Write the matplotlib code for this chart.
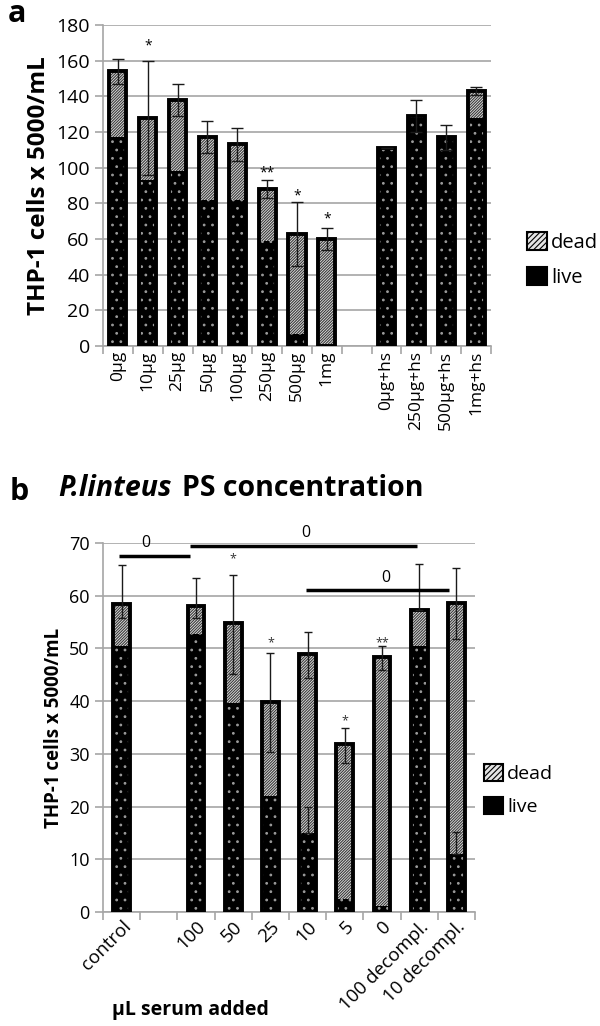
import numpy as np
import matplotlib
matplotlib.use('Agg')
import matplotlib.pyplot as plt
from matplotlib.patches import Patch

plt.rcParams['font.family'] = ['Open Sans', 'DejaVu Sans']
plt.rcParams['hatch.linewidth'] = 0.8

# ---------------- data: panel a ----------------
cats_a = ['0µg', '10µg', '25µg', '50µg', '100µg', '250µg', '500µg', '1mg', '',
          '0µg+hs', '250µg+hs', '500µg+hs', '1mg+hs']
total_a = [154, 128, 138, 117, 113, 88, 63, 60, np.nan, 111, 129, 117, 143]
live_a = [117, 93, 98, 82, 82, 59, 7, 0, np.nan, 111, 128, 117, 128]
err_a = [7, 32, 9, 9, 9, 5, 18, 6, np.nan, 0, 9, 7, 2]
stars_a = ['', '*', '', '', '', '**', '*', '*', '', '', '', '', '']
star_y_a = [0, 168, 0, 0, 0, 97, 84, 71, 0, 0, 0, 0, 0]

# ---------------- data: panel b ----------------
cats_b = ['control', '', '100', '50', '25', '10', '5', '0', '100 decompl.', '10 decompl.']
total_b = [58.4, np.nan, 58.0, 54.9, 39.9, 48.9, 31.9, 48.3, 57.2, 58.7]
live_b = [50.4, np.nan, 52.8, 39.7, 22.0, 15.0, 2.5, 1.2, 50.4, 11.0]
err_hi_b = [7.4, np.nan, 5.3, 9.1, 9.3, 4.3, 3.1, 2.1, 8.8, 6.5]
err_lo_b = [2.7, np.nan, 2.3, 9.7, 9.6, 4.6, 3.6, 2.3, 0.0, 7.0]
live_err_b = [0, np.nan, 0, 0, 0, 5.0, 0, 0, 0, 4.2]
stars_b = ['', '', '', '*', '*', '', '*', '**', '', '']
star_y_b = [0, 0, 0, 67.0, 51.0, 0, 36.3, 51.0, 0, 0]
# significance brackets: (x start, x end, y, label)
sig_x0 = [-0.08, 1.85, 4.95]
sig_x1 = [1.85, 7.95, 8.8]
sig_y = [67.5, 69.4, 61.0]
sig_lbl = ['0', '0', '0']
sig_lbl_x = [0.65, 4.95, 7.1]
sig_lbl_y = [68.4, 70.3, 61.9]

GRID = '#a6a6a6'
DEAD_HATCH = '////////////'


def draw_panel(ax, cats, live, total, elo, ehi, width, capsize, ylim, ystep):
    x = np.arange(len(cats))
    idx = [i for i, c in enumerate(cats) if c != '']
    xs = x[idx]
    lv = np.array(live, float)[idx]
    tt = np.array(total, float)[idx]
    lo = np.array(elo, float)[idx]
    hi = np.array(ehi, float)[idx]
    dead = tt - lv
    ax.bar(xs, lv, width, color='black', edgecolor='#9a9a9a', hatch='..', lw=0, zorder=2)
    ax.bar(xs, dead, width, bottom=lv, color='#e4e4e4', edgecolor='#3a3a3a',
           hatch=DEAD_HATCH, lw=0, zorder=2)
    ax.bar(xs, tt, width, fill=False, edgecolor='black', lw=2.8, zorder=3)
    ax.errorbar(xs, tt, yerr=[lo, hi], fmt='none', ecolor='#1a1a1a', elinewidth=1.0,
                capsize=capsize, capthick=1.0, zorder=4)
    ax.set_xlim(-0.5, len(cats) - 0.5)
    ax.set_ylim(*ylim)
    ax.set_yticks(np.arange(ylim[0], ylim[1] + 0.1, ystep))
    ax.yaxis.grid(True, color=GRID, lw=1.2, zorder=0)
    ax.set_axisbelow(True)
    for s in ['top', 'right']:
        ax.spines[s].set_visible(False)
    for s in ['left', 'bottom']:
        ax.spines[s].set_color(GRID)
        ax.spines[s].set_linewidth(1.2)
    ax.set_xticks(x)
    ax.set_xticks(np.arange(-0.5, len(cats), 1.0), minor=True)
    ax.tick_params(axis='x', which='major', length=0)
    ax.tick_params(axis='x', which='minor', length=6, color=GRID, width=1.2)
    ax.tick_params(axis='y', length=6, color=GRID, width=1.2)
    return x


fig = plt.figure(figsize=(6, 10.26), dpi=100)

# ---------------- panel a ----------------
axa = fig.add_axes([103 / 600, 1 - 346 / 1026, 388 / 600, 321 / 1026])
xa = draw_panel(axa, cats_a, live_a, total_a, err_a, err_a, 0.57, 4.5, (0, 180), 20)
axa.set_xticklabels(cats_a, rotation=90, fontsize=12.5, va='top', ha='center')
axa.tick_params(axis='y', labelsize=14)
axa.set_ylabel('THP-1 cells x 5000/mL', fontsize=17.5, fontweight='bold', labelpad=4)
for i, s in enumerate(stars_a):
    if s:
        axa.text(xa[i], star_y_a[i], s, ha='center', va='center', fontsize=10)
fig.text(8 / 600, 1 - 14 / 1026, 'a', fontsize=22, fontweight='bold', va='center', ha='left')

leg_handles = [Patch(facecolor='#e4e4e4', edgecolor='black', hatch='//////', lw=1.5),
               Patch(facecolor='black', edgecolor='black', lw=1.5)]
fig.legend(leg_handles, ['dead', 'live'], loc='center left',
           bbox_to_anchor=(527 / 600, 1 - 260 / 1026), frameon=False, fontsize=14.5,
           handlelength=1.0, handleheight=1.0, handletextpad=0.2, labelspacing=0.7,
           borderpad=0, borderaxespad=0)

# ---------------- panel b ----------------
axb = fig.add_axes([103 / 600, 1 - 912 / 1026, 372 / 600, 369 / 1026])
xb = draw_panel(axb, cats_b, live_b, total_b, err_lo_b, err_hi_b, 0.45, 3, (0, 70), 10)
# live error bars
lb = np.array(live_b, float)
le = np.array(live_err_b, float)
sel = [i for i in range(len(cats_b)) if cats_b[i] != '' and le[i] > 0]
axb.errorbar(xb[sel], lb[sel], yerr=[np.zeros(len(sel)), le[sel]], fmt='none',
             ecolor='#1a1a1a', elinewidth=1.0, capsize=3, capthick=1.0, zorder=4)
axb.set_xticklabels(cats_b, rotation=45, fontsize=13.5, ha='right', va='top',
                    rotation_mode='anchor')
axb.tick_params(axis='x', which='major', pad=4)
axb.tick_params(axis='y', labelsize=13)
axb.set_ylabel('THP-1 cells x 5000/mL', fontsize=13.5, fontweight='bold', labelpad=4)
for i, s in enumerate(stars_b):
    if s:
        axb.text(xb[i], star_y_b[i], s, ha='center', va='center', fontsize=9, color='#333')
for x0, x1, y, lbl, lx, ly in zip(sig_x0, sig_x1, sig_y, sig_lbl, sig_lbl_x, sig_lbl_y):
    axb.plot([x0, x1], [y, y], color='black', lw=2.5, clip_on=False, zorder=5,
             solid_capstyle='butt')
    axb.text(lx, ly, lbl, ha='center', va='bottom', fontsize=11.5, clip_on=False)

fig.text(10 / 600, 1 - 492 / 1026, 'b', fontsize=22, fontweight='bold', va='center', ha='left')
t1 = fig.text(58 / 600, 1 - 488 / 1026, 'P.linteus', fontsize=20.5, fontweight='bold',
              style='italic', va='center', ha='left')
fig.canvas.draw()
bb = t1.get_window_extent()
fig.text(bb.x1 / 600 + 10 / 600, 1 - 488 / 1026, 'PS concentration', fontsize=20.5,
         fontweight='bold', va='center', ha='left')
fig.text(190 / 600, 1 - 1010 / 1026, 'µL serum added', fontsize=14, fontweight='bold',
         va='center', ha='center')

fig.legend(leg_handles, ['dead', 'live'], loc='center left',
           bbox_to_anchor=(484 / 600, 1 - 790 / 1026), frameon=False, fontsize=14,
           handlelength=1.0, handleheight=1.0, handletextpad=0.2, labelspacing=0.7,
           borderpad=0, borderaxespad=0)

fig.savefig('out.png', dpi=100)
